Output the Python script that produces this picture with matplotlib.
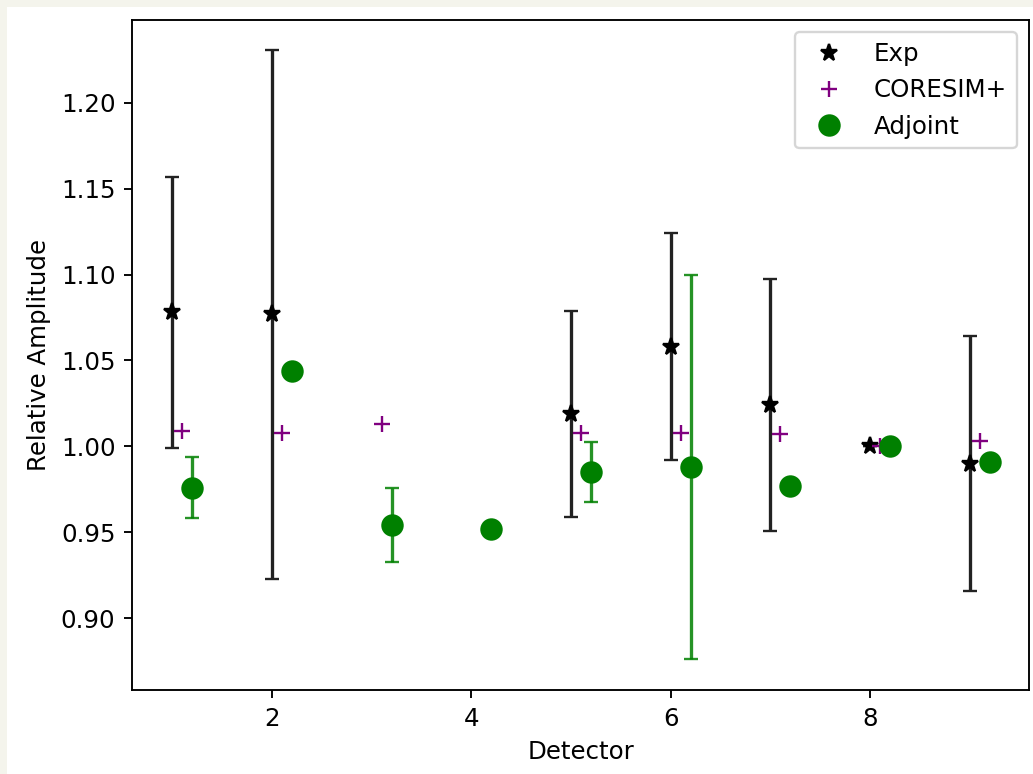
import numpy as np
import matplotlib
matplotlib.use('Agg')
import matplotlib.pyplot as plt
from matplotlib.patches import Rectangle

#%% data
detector = np.array([1, 2, 3, 4, 5, 6, 7, 8, 9])

exp_val = np.array([1.078, 1.077, np.nan, np.nan, 1.019, 1.058, 1.024, 1.000, 0.990])
exp_err = np.array([0.079, 0.154, np.nan, np.nan, 0.060, 0.066, 0.0735, 0.0, 0.0745])

coresim_val = np.array([1.009, 1.008, 1.013, np.nan, 1.008, 1.008, 1.007, 1.000, 1.003])

adj_val = np.array([0.976, 1.044, 0.954, 0.952, 0.985, 0.988, 0.977, 1.000, 0.991])
adj_err = np.array([0.0177, 0.0, 0.0215, 0.0, 0.0177, 0.112, 0.0, 0.0, 0.0])

#%% plot
plt.rcParams['font.size'] = 10.4
dpi = 170
fig = plt.figure(figsize=(1033/dpi, 774/dpi), dpi=dpi, facecolor='#f4f4ec')
# white page area (reference is a screenshot with a thin beige frame top/left)
fig.patches.append(Rectangle((7/1033, 0), 1, 767/774, transform=fig.transFigure,
                             facecolor='white', edgecolor='none', zorder=-10))
ax = fig.add_axes([132/1033, 84/774, 897/1033, 670/774])

ax.errorbar(detector, exp_val, yerr=exp_err, fmt='none', ecolor='#222222', capsize=3, elinewidth=1.4)
ax.plot(detector, exp_val, 'k*', markersize=7.5, label='Exp')
ax.plot(detector + 0.1, coresim_val, '+', color='purple', markersize=7, label='CORESIM+')
ax.errorbar(detector + 0.2, adj_val, yerr=adj_err, fmt='none', ecolor='green', alpha=0.85,
            capsize=3, elinewidth=1.4)
ax.plot(detector + 0.2, adj_val, 'o', color='green', markersize=8.5, label='Adjoint')

ax.set_xlim(0.595, 9.595)
ax.set_ylim(0.8581, 1.2483)
ax.set_xticks([2, 4, 6, 8])
ax.set_yticks([0.90, 0.95, 1.00, 1.05, 1.10, 1.15, 1.20])
ax.yaxis.set_major_formatter(matplotlib.ticker.FormatStrFormatter('%.2f'))
ax.set_xlabel('Detector')
ax.set_ylabel('Relative Amplitude')
ax.legend(loc='upper right')

plt.savefig('out.png', dpi=dpi, facecolor=fig.get_facecolor())
